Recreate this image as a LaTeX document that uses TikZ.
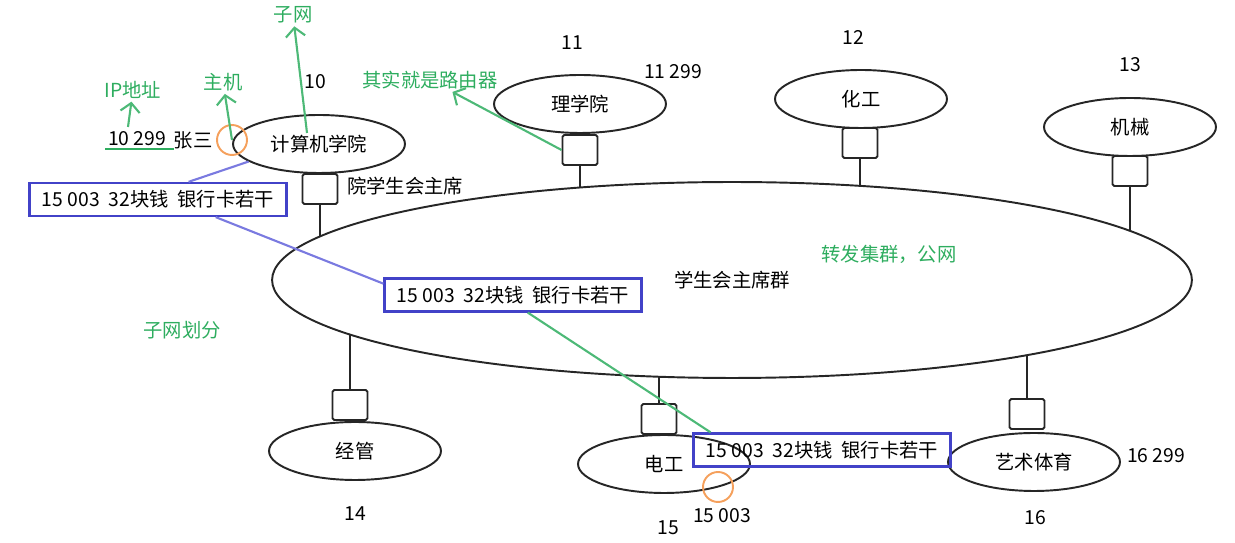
\documentclass[tikz,border=0pt]{standalone}
\usepackage{fontspec}
\newfontfamily\cjk{Noto Sans CJK SC}
\usetikzlibrary{shapes.geometric,arrows.meta}
\definecolor{notegreen}{HTML}{2EAD5F}
\definecolor{boxblue}{HTML}{4242C8}
\definecolor{linkblue}{HTML}{7A7AE0}
\definecolor{markorange}{HTML}{F5A05C}

\begin{document}
\begin{tikzpicture}[x=0.02cm, y=-0.02cm, >={Straight Barb[length=5pt,width=11pt]},
    every node/.style={font=\cjk\fontsize{11}{13}\selectfont, inner sep=1.5pt},
    wire/.style={line width=1.1pt, draw=black!85},
    college/.style={ellipse, wire, minimum width=3.44cm, minimum height=1.16cm, inner sep=0pt},
    router/.style={wire, rounded corners=1pt, minimum width=0.7cm, minimum height=0.6cm, inner sep=0pt},
    cashbox/.style={draw=boxblue, line width=1.3pt, minimum width=5.14cm, minimum height=0.66cm, inner sep=0pt},
    note/.style={text=notegreen},
    notearrow/.style={->, draw=notegreen!85, line width=1.2pt},
    markring/.style={circle, draw=markorange, line width=1.1pt, minimum size=0.6cm, inner sep=0pt}]
    \useasboundingbox (0,0) rectangle (1235,543);

    % Backbone
    \node[ellipse, wire, minimum width=18.4cm, minimum height=3.92cm, inner sep=0pt] (ring) at (732,280) {学生会主席群};

    % Colleges
    \node[college] (c10) at (319,144) {计算机学院};
    \node[college] (c11) at (580,104) {理学院};
    \node[college] (c12) at (861,99) {化工};
    \node[college] (c13) at (1130,127) {机械};
    \node[college] (c14) at (355,451) {经管};
    \node[college] (c15) at (664,464) {电工};
    \node[college] (c16) at (1034,462) {艺术体育};

    % Routers
    \node[router] (r10) at (320,189) {};
    \node[router] (r11) at (580,150) {};
    \node[router] (r12) at (860,143) {};
    \node[router] (r13) at (1130,171) {};
    \node[router] (r14) at (350,405) {};
    \node[router] (r15) at (659,419) {};
    \node[router] (r16) at (1027,414) {};

    % Drops onto the backbone
    \coordinate (d10) at (320,236.4);
    \coordinate (d11) at (580,187.5);
    \coordinate (d12) at (860,185.9);
    \coordinate (d13) at (1130,230.9);
    \coordinate (d14) at (350,334.6);
    \coordinate (d15) at (659,376.8);
    \coordinate (d16) at (1027,355.2);
    \draw[wire] (r10) -- (d10);
    \draw[wire] (r11) -- (d11);
    \draw[wire] (r12) -- (d12);
    \draw[wire] (r13) -- (d13);
    \draw[wire] (r14) -- (d14);
    \draw[wire] (r15) -- (d15);
    \draw[wire] (r16) -- (d16);

    % Numbers
    \node (n10) at (315,82) {10};
    \node (n11) at (572,43) {11};
    \node (h11) at (673,72) {11 299};
    \node (n12) at (853,37) {12};
    \node (n13) at (1130,65) {13};
    \node (n14) at (355,514) {14};
    \node (n15) at (668,528) {15};
    \node (h15) at (722,516) {15 003};
    \node (n16) at (1035,518) {16};
    \node (h16) at (1156,456) {16 299};
    \node (addr) at (137,139) {10 299};
    \node (zhang) at (193,140) {张三};
    \node (chair) at (405,186) {院学生会主席};

    % Notes
    \node[note] (ip) at (133,90) {IP地址};
    \node[note] (host) at (223,82) {主机};
    \node[note] (subnet) at (293,15) {子网};
    \node[note] (routerlabel) at (430,80) {其实就是路由器};
    \node[note] (fwd) at (889,254) {转发集群，公网};
    \node[note] (split) at (182,330) {子网划分};
    \draw[notegreen, line width=1.1pt] (addr.south west) -- ([xshift=3pt]addr.south east);

    \node[markring] (hostring) at (232,140) {};
    \node[markring] (portring) at (718,487) {};

    \coordinate (ipfoot) at (128,127);
    \coordinate (subfoot) at (307,133);
    \draw[notearrow] (ipfoot) -- (ip);
    \draw[notearrow] (hostring.center) -- (host);
    \draw[notearrow] (subfoot) -- (subnet);
    \draw[notearrow] (r11.west) -- (routerlabel);

    % Packet on its way
    \node[cashbox] (cash1) at (158,199.5) {15 003\ \ 32块钱\ \ 银行卡若干};
    \node[cashbox] (cash2) at (513,295) {15 003\ \ 32块钱\ \ 银行卡若干};
    \node[cashbox] (cash3) at (822,450) {15 003\ \ 32块钱\ \ 银行卡若干};
    \draw[linkblue, line width=1.2pt] (c10.194) -- (cash1.30);
    \draw[linkblue, line width=1.2pt] (cash1.-17) -- (cash2.175);
    \draw[notegreen!85, line width=1.2pt] (cash2.-50) -- (cash3.171);
\end{tikzpicture}
\end{document}
